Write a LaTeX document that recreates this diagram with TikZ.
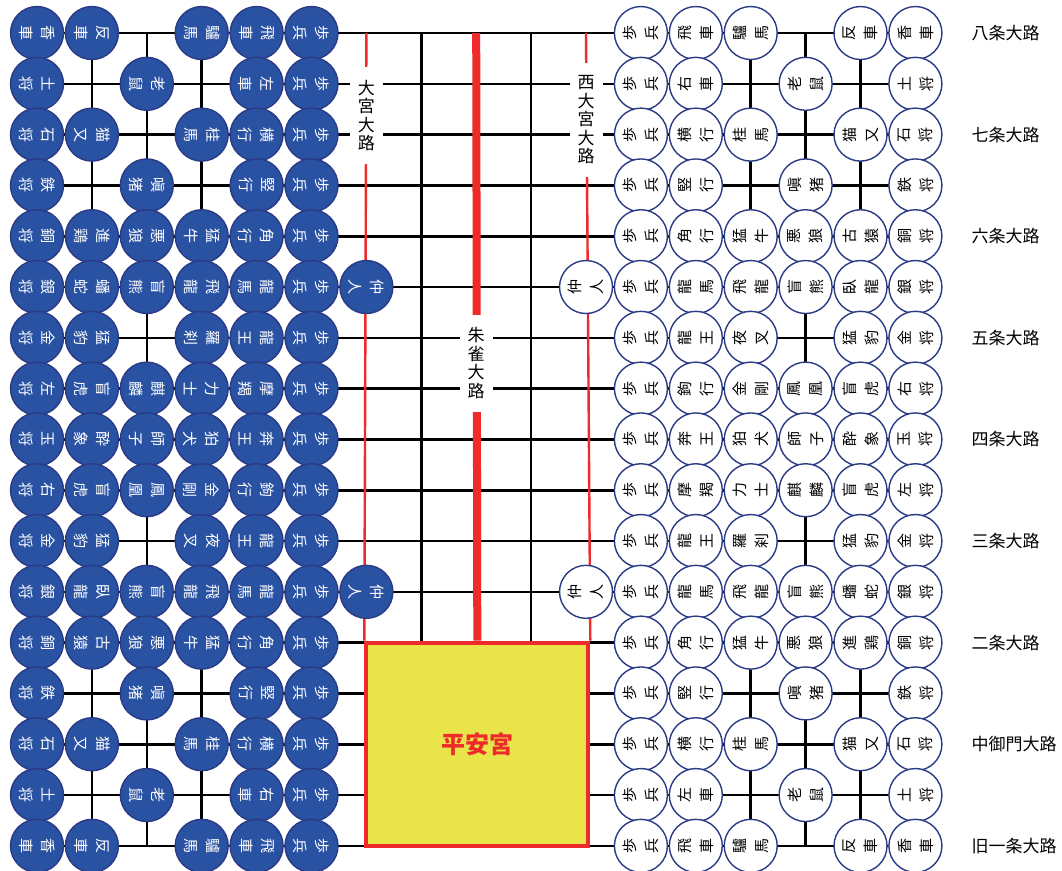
\documentclass[tikz,border=0pt]{standalone}
\usepackage{fontspec}
\setmainfont{Noto Sans CJK JP}
\definecolor{komablue}{HTML}{2952A3}
\definecolor{komaedge}{HTML}{2B3A85}
\definecolor{roadred}{HTML}{EE2A2A}
\definecolor{palace}{HTML}{E8E44A}
\tikzset{
  koma/.style={circle, minimum size=53pt, inner sep=0pt, align=center, line width=1.4pt,
    font=\fontsize{15}{22}\selectfont},
  sente/.style={koma, draw=komaedge, fill=white, rotate=90},
  gote/.style={koma, draw=komaedge, fill=komablue, text=white, rotate=-90},
  gridline/.style={line width=2.6pt},
  sideroad/.style={roadred, line width=2.4pt},
  mainroad/.style={roadred, line width=8pt},
  roadname/.style={fill=white, align=center, inner xsep=8pt, inner ysep=13pt,
    font=\fontsize{17}{18.5}\selectfont},
  jouname/.style={anchor=west, font=\fontsize{17}{20}\selectfont},
  palacebox/.style={draw=roadred, line width=4pt, fill=palace, text=roadred,
    minimum width=222pt, minimum height=203.2pt, font=\fontsize{24}{28}\selectfont\bfseries},
}
\begin{document}
\begin{tikzpicture}[x=54.9pt, y=-50.8pt]
  \useasboundingbox (-0.674,-0.650) rectangle (18.670,16.476);
  \foreach \c in {0,...,16} {
    \coordinate (n\c) at (\c,0);
    \coordinate (s\c) at (\c,16);
  }
  \foreach \r in {0,...,16} {
    \coordinate (w\r) at (0,\r);
    \coordinate (e\r) at (16,\r);
  }
  \foreach \c in {0,...,5,7,9,11,12,...,16}
    \draw[gridline] (n\c) -- (s\c);
  \foreach \r in {0,...,16}
    \draw[gridline] (w\r) -- (e\r);

  \node[palacebox] (heian) at (8.02,14) {平安宮};
  \draw[sideroad] (n6) -- (heian.north west);
  \draw[mainroad] (n8) -- (heian.north);
  \draw[sideroad] (n10) -- (heian.north east);
  \node[palacebox] at (heian) {平安宮};

  \node[roadname] (omiya) at (6,1.62) {大\\宮\\大\\路};
  \node[roadname] (nishiomiya) at (10,1.71) {西\\大\\宮\\大\\路};
  \node[roadname] (suzaku) at (8,6.5) {朱\\雀\\大\\路};

  \foreach \r/\jo in {0/八条大路, 2/七条大路, 4/六条大路, 6/五条大路, 8/四条大路,
                      10/三条大路, 12/二条大路, 14/中御門大路, 16/旧一条大路}
    \node[jouname] (jo\r) at (16.958,\r) {\jo};

  \foreach \r in {0,...,16} {
    \node[gote] (g5-\r) at (5,\r) {歩\\兵};
    \node[sente] (s11-\r) at (11,\r) {歩\\兵};
  }
  \foreach \c/\r/\koa/\kob in {
      0/0/香/車, 1/0/反/車, 3/0/驢/馬, 4/0/飛/車,
      0/1/土/将, 2/1/老/鼠, 4/1/左/車,
      0/2/石/将, 1/2/猫/又, 3/2/桂/馬, 4/2/横/行,
      0/3/鉄/将, 2/3/嗔/猪, 4/3/竪/行,
      0/4/銅/将, 1/4/進/鶏, 2/4/悪/狼, 3/4/猛/牛, 4/4/角/行,
      0/5/銀/将, 1/5/蟠/蛇, 2/5/盲/熊, 3/5/飛/龍, 4/5/龍/馬, 6/5/仲/人,
      0/6/金/将, 1/6/猛/豹, 3/6/羅/刹, 4/6/龍/王,
      0/7/左/将, 1/7/盲/虎, 2/7/麒/麟, 3/7/力/士, 4/7/摩/羯,
      0/8/玉/将, 1/8/酔/象, 2/8/師/子, 3/8/狛/犬, 4/8/奔/王,
      0/9/右/将, 1/9/盲/虎, 2/9/鳳/凰, 3/9/金/剛, 4/9/鉤/行,
      0/10/金/将, 1/10/猛/豹, 3/10/夜/叉, 4/10/龍/王,
      0/11/銀/将, 1/11/臥/龍, 2/11/盲/熊, 3/11/飛/龍, 4/11/龍/馬, 6/11/仲/人,
      0/12/銅/将, 1/12/古/猿, 2/12/悪/狼, 3/12/猛/牛, 4/12/角/行,
      0/13/鉄/将, 2/13/嗔/猪, 4/13/竪/行,
      0/14/石/将, 1/14/猫/又, 3/14/桂/馬, 4/14/横/行,
      0/15/土/将, 2/15/老/鼠, 4/15/右/車,
      0/16/香/車, 1/16/反/車, 3/16/驢/馬, 4/16/飛/車}
    \node[gote] (g\c-\r) at (\c,\r) {\koa\\\kob};
  \foreach \c/\r/\koa/\kob in {
      12/0/飛/車, 13/0/驢/馬, 15/0/反/車, 16/0/香/車,
      12/1/右/車, 14/1/老/鼠, 16/1/土/将,
      12/2/横/行, 13/2/桂/馬, 15/2/猫/又, 16/2/石/将,
      12/3/竪/行, 14/3/嗔/猪, 16/3/鉄/将,
      12/4/角/行, 13/4/猛/牛, 14/4/悪/狼, 15/4/古/猿, 16/4/銅/将,
      10/5/仲/人, 12/5/龍/馬, 13/5/飛/龍, 14/5/盲/熊, 15/5/臥/龍, 16/5/銀/将,
      12/6/龍/王, 13/6/夜/叉, 15/6/猛/豹, 16/6/金/将,
      12/7/鉤/行, 13/7/金/剛, 14/7/鳳/凰, 15/7/盲/虎, 16/7/右/将,
      12/8/奔/王, 13/8/狛/犬, 14/8/師/子, 15/8/酔/象, 16/8/玉/将,
      12/9/摩/羯, 13/9/力/士, 14/9/麒/麟, 15/9/盲/虎, 16/9/左/将,
      12/10/龍/王, 13/10/羅/刹, 15/10/猛/豹, 16/10/金/将,
      10/11/仲/人, 12/11/龍/馬, 13/11/飛/龍, 14/11/盲/熊, 15/11/蟠/蛇, 16/11/銀/将,
      12/12/角/行, 13/12/猛/牛, 14/12/悪/狼, 15/12/進/鶏, 16/12/銅/将,
      12/13/竪/行, 14/13/嗔/猪, 16/13/鉄/将,
      12/14/横/行, 13/14/桂/馬, 15/14/猫/又, 16/14/石/将,
      12/15/左/車, 14/15/老/鼠, 16/15/土/将,
      12/16/飛/車, 13/16/驢/馬, 15/16/反/車, 16/16/香/車}
    \node[sente] (s\c-\r) at (\c,\r) {\koa\\\kob};
\end{tikzpicture}
\end{document}
